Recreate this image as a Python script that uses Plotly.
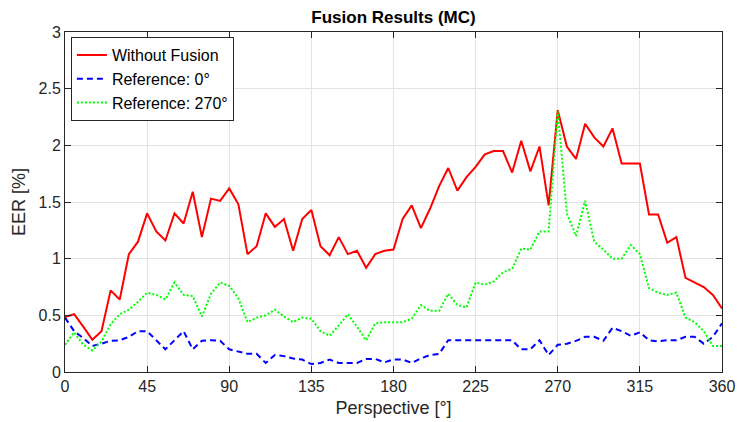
import plotly.graph_objects as go

angles = list(range(0, 361, 5))

without_fusion = [
    0.485, 0.51, 0.40, 0.285, 0.36, 0.72, 0.64, 1.04, 1.15, 1.40,
    1.24, 1.16, 1.40, 1.31, 1.59, 1.19, 1.53, 1.51, 1.62, 1.48,
    1.04, 1.11, 1.40, 1.28, 1.35, 1.07, 1.35, 1.43, 1.11, 1.03,
    1.19, 1.04, 1.07, 0.92, 1.04, 1.07, 1.08, 1.35, 1.47, 1.27,
    1.44, 1.64, 1.80, 1.60, 1.72, 1.81, 1.92, 1.95, 1.95, 1.76,
    2.04, 1.77, 1.99, 1.47, 2.31, 1.99, 1.88, 2.19, 2.07, 1.99,
    2.15, 1.84, 1.84, 1.84, 1.39, 1.39, 1.14, 1.19, 0.83, 0.79,
    0.75, 0.68, 0.56,
]

reference_0 = [
    0.48, 0.36, 0.30, 0.23, 0.25, 0.275, 0.28, 0.31, 0.36, 0.36,
    0.28, 0.20, 0.28, 0.36, 0.20, 0.275, 0.28, 0.275, 0.20, 0.18,
    0.16, 0.16, 0.08, 0.15, 0.14, 0.12, 0.11, 0.07, 0.08, 0.11,
    0.08, 0.08, 0.08, 0.115, 0.115, 0.085, 0.11, 0.11, 0.08, 0.12,
    0.15, 0.16, 0.28, 0.28, 0.28, 0.28, 0.28, 0.28, 0.28, 0.28,
    0.20, 0.20, 0.28, 0.15, 0.24, 0.25, 0.275, 0.31, 0.31, 0.275,
    0.39, 0.36, 0.32, 0.35, 0.28, 0.27, 0.28, 0.28, 0.31, 0.31,
    0.25, 0.31, 0.43,
]

reference_270 = [
    0.24, 0.35, 0.24, 0.19, 0.27, 0.42, 0.51, 0.55, 0.62, 0.70,
    0.68, 0.64, 0.79, 0.68, 0.67, 0.49, 0.69, 0.79, 0.76, 0.65,
    0.44, 0.48, 0.50, 0.55, 0.49, 0.44, 0.48, 0.47, 0.36, 0.32,
    0.41, 0.51, 0.40, 0.28, 0.43, 0.44, 0.44, 0.44, 0.47, 0.59,
    0.54, 0.54, 0.69, 0.59, 0.57, 0.79, 0.77, 0.80, 0.88, 0.91,
    1.09, 1.08, 1.24, 1.24, 2.30, 1.40, 1.20, 1.51, 1.15, 1.08,
    1.00, 1.00, 1.12, 1.04, 0.74, 0.70, 0.68, 0.70, 0.48, 0.44,
    0.36, 0.23, 0.23,
]

x_ticks = [0, 45, 90, 135, 180, 225, 270, 315, 360]
y_ticks = [0, 0.5, 1, 1.5, 2, 2.5, 3]
y_tick_labels = ["0", "0.5", "1", "1.5", "2", "2.5", "3"]

FONT = "Liberation Sans, Arial, Helvetica, sans-serif"
AXIS_COLOR = "#262626"

fig = go.Figure()
fig.add_trace(go.Scatter(
    x=angles, y=without_fusion, mode="lines", name="Without Fusion",
    line=dict(color="#ff0000", width=2),
))
fig.add_trace(go.Scatter(
    x=angles, y=reference_0, mode="lines", name="Reference: 0°",
    line=dict(color="#0000ff", width=2, dash="6px,4px"),
))
fig.add_trace(go.Scatter(
    x=angles, y=reference_270, mode="lines", name="Reference: 270°",
    line=dict(color="#00ff00", width=2, dash="2px,2px"),
))

axis_common = dict(
    showgrid=True, gridcolor="#e3e3e3", gridwidth=1,
    showline=True, linecolor=AXIS_COLOR, linewidth=1, mirror="ticks",
    ticks="inside", ticklen=6, tickcolor=AXIS_COLOR,
    tickfont=dict(family=FONT, size=16, color=AXIS_COLOR),
    zeroline=False, automargin=False,
)

fig.update_layout(
    width=737, height=422,
    margin=dict(l=65, r=15, t=32, b=50),
    paper_bgcolor="white", plot_bgcolor="white",
    title=dict(
        text="<b>Fusion Results (MC)</b>",
        font=dict(family=FONT, size=17, color="black"),
        x=(65 + 722) / 2 / 737, xanchor="center",
        y=1 - 17 / 422, yanchor="middle",
    ),
    xaxis=dict(
        range=[0, 360], tickvals=x_ticks,
        title=dict(text="Perspective [°]", font=dict(family=FONT, size=18, color=AXIS_COLOR), standoff=7),
        **axis_common,
    ),
    yaxis=dict(
        range=[0, 3], tickvals=y_ticks, ticktext=y_tick_labels,
        title=dict(text="EER [%]", font=dict(family=FONT, size=18, color=AXIS_COLOR), standoff=8),
        **axis_common,
    ),
    legend=dict(
        x=0.009, y=0.985, xanchor="left", yanchor="top",
        bgcolor="white", bordercolor=AXIS_COLOR, borderwidth=1,
        font=dict(family=FONT, size=16, color="black"),
        tracegroupgap=0, itemwidth=30,
    ),
    showlegend=True,
)

fig.write_html(
    "out.html",
    config={"displayModeBar": False},
    post_script="document.body.style.margin='0';document.body.style.overflow='hidden';",
)
